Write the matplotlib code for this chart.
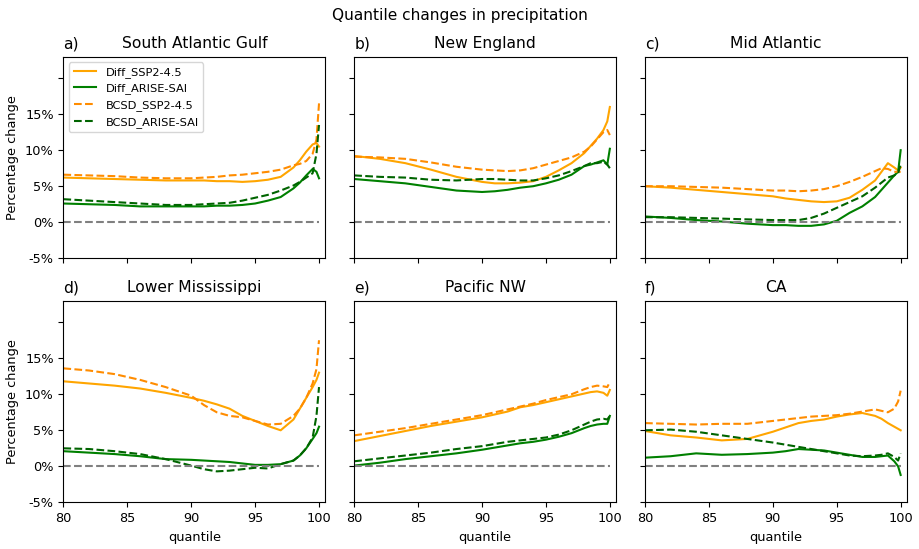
import numpy as np
import matplotlib
matplotlib.use('Agg')
import matplotlib.pyplot as plt

quantiles = [80, 82, 84, 86, 88, 90, 91, 92, 93, 94, 95, 96, 97, 98, 98.5, 99, 99.5, 99.8, 100]

regions = ['South Atlantic Gulf', 'New England', 'Mid Atlantic',
           'Lower Mississippi', 'Pacific NW', 'CA']
letters = ['a)', 'b)', 'c)', 'd)', 'e)', 'f)']

diff_ssp = [
    [6.2, 6.1, 6.0, 5.9, 5.8, 5.8, 5.8, 5.7, 5.7, 5.6, 5.7, 5.9, 6.3, 7.6, 8.6, 9.8, 10.8, 11.0, 10.5],
    [9.2, 8.8, 8.2, 7.3, 6.3, 5.6, 5.4, 5.4, 5.5, 5.7, 6.3, 7.2, 8.2, 9.6, 10.6, 11.6, 12.8, 14.0, 16.0],
    [5.0, 4.8, 4.5, 4.2, 3.9, 3.6, 3.3, 3.1, 2.9, 2.8, 2.9, 3.4, 4.5, 5.8, 7.0, 8.2, 7.6, 7.2, 7.6],
    [11.8, 11.5, 11.2, 10.8, 10.2, 9.5, 9.1, 8.6, 8.0, 7.0, 6.3, 5.6, 5.0, 6.5, 8.0, 9.5, 11.0, 12.0, 13.0],
    [3.5, 4.2, 4.9, 5.6, 6.2, 6.8, 7.2, 7.6, 8.2, 8.5, 8.9, 9.3, 9.7, 10.1, 10.3, 10.4, 10.2, 9.8, 10.6],
    [4.9, 4.3, 4.0, 3.6, 3.8, 4.8, 5.4, 6.0, 6.3, 6.5, 6.9, 7.2, 7.4, 7.0, 6.6, 6.0, 5.5, 5.2, 5.0],
]
diff_arise = [
    [2.6, 2.5, 2.4, 2.2, 2.2, 2.2, 2.2, 2.3, 2.3, 2.4, 2.6, 3.0, 3.5, 4.7, 5.5, 6.5, 7.4, 7.0, 6.1],
    [6.0, 5.7, 5.4, 4.9, 4.4, 4.2, 4.3, 4.5, 4.8, 5.0, 5.4, 5.9, 6.6, 7.8, 8.0, 8.3, 8.6, 8.0, 10.2],
    [0.8, 0.6, 0.3, 0.1, -0.2, -0.4, -0.4, -0.5, -0.5, -0.3, 0.2, 1.3, 2.2, 3.5, 4.5, 5.5, 6.5, 7.0, 10.0],
    [2.1, 1.9, 1.7, 1.4, 1.0, 0.9, 0.8, 0.7, 0.6, 0.4, 0.2, 0.2, 0.3, 0.8, 1.5, 2.5, 3.8, 4.6, 5.5],
    [0.1, 0.5, 1.0, 1.4, 1.8, 2.3, 2.6, 2.9, 3.2, 3.4, 3.7, 4.1, 4.6, 5.3, 5.6, 5.8, 5.9, 5.9, 7.0],
    [1.2, 1.4, 1.8, 1.6, 1.7, 1.9, 2.1, 2.4, 2.3, 2.2, 1.9, 1.6, 1.3, 1.3, 1.4, 1.5, 0.7, 0.0, -1.2],
]
bcsd_ssp = [
    [6.6, 6.5, 6.4, 6.2, 6.1, 6.1, 6.2, 6.3, 6.5, 6.6, 6.8, 7.0, 7.3, 7.9, 8.1, 8.5, 9.5, 11.5, 16.5],
    [9.1, 9.0, 8.8, 8.3, 7.7, 7.3, 7.2, 7.1, 7.2, 7.5, 8.0, 8.5, 9.0, 9.8, 10.5, 11.5, 12.5, 12.8, 12.1],
    [5.0, 5.0, 4.9, 4.8, 4.6, 4.4, 4.4, 4.3, 4.4, 4.6, 5.0, 5.6, 6.3, 7.1, 7.5, 7.4, 7.0, 7.0, 7.0],
    [13.6, 13.3, 12.8, 12.0, 11.0, 9.8, 8.5, 7.5, 7.0, 6.8, 6.3, 5.8, 5.9, 7.0, 8.0, 9.5, 11.5, 13.5, 17.5],
    [4.3, 4.8, 5.3, 5.9, 6.5, 7.1, 7.5, 7.9, 8.3, 8.7, 9.2, 9.6, 10.0, 10.7, 11.0, 11.2, 11.1, 11.0, 11.7],
    [6.0, 5.9, 5.8, 5.9, 5.9, 6.3, 6.5, 6.7, 6.9, 7.0, 7.1, 7.3, 7.6, 7.9, 7.7, 7.5, 8.0, 9.0, 10.5],
]
bcsd_arise = [
    [3.2, 3.0, 2.8, 2.6, 2.4, 2.4, 2.5, 2.6, 2.7, 3.0, 3.4, 3.8, 4.4, 5.1, 5.6, 6.2, 6.8, 9.5, 13.5],
    [6.5, 6.3, 6.2, 5.9, 5.8, 6.0, 6.0, 5.9, 5.8, 5.8, 6.1, 6.5, 7.1, 7.8, 8.2, 8.2, 8.4, 8.0, 7.5],
    [0.7, 0.7, 0.6, 0.5, 0.4, 0.3, 0.3, 0.3, 0.6, 1.2, 2.0, 2.8, 3.6, 4.8, 5.5, 6.2, 6.5, 6.8, 8.0],
    [2.5, 2.4, 2.1, 1.7, 1.0, 0.1, -0.4, -0.7, -0.6, -0.4, -0.2, -0.3, 0.3, 0.8, 1.5, 2.5, 4.0, 7.0, 11.0],
    [0.7, 1.1, 1.5, 1.9, 2.4, 2.8, 3.1, 3.4, 3.6, 3.8, 4.0, 4.4, 5.0, 5.8, 6.2, 6.5, 6.6, 6.5, 7.0],
    [5.0, 5.1, 4.8, 4.3, 3.8, 3.3, 3.0, 2.7, 2.4, 2.1, 1.8, 1.5, 1.4, 1.5, 1.6, 1.8, 1.3, 0.8, 1.8],
]

yticks = [-5, 0, 5, 10, 15, 20]
ytick_labels = ['-5%', '0%', '5%', '10%', '15%', '']

fig, axes = plt.subplots(2, 3, figsize=(9.19, 5.49), dpi=100, sharex=True, sharey=True)
fig.subplots_adjust(left=0.069, right=0.987, top=0.897, bottom=0.085, wspace=0.11, hspace=0.21)

for i, ax in enumerate(axes.flat):
    ax.plot(quantiles, diff_ssp[i], color='orange', linewidth=1.5, label='Diff_SSP2-4.5')
    ax.plot(quantiles, diff_arise[i], color='green', linewidth=1.5, label='Diff_ARISE-SAI')
    ax.plot(quantiles, bcsd_ssp[i], '--', color='darkorange', linewidth=1.5, label='BCSD_SSP2-4.5')
    ax.plot(quantiles, bcsd_arise[i], '--', color='darkgreen', linewidth=1.5, label='BCSD_ARISE-SAI')
    ax.plot([quantiles[0], quantiles[-1]], [0, 0], '--', color='grey', linewidth=1.5)
    ax.set_title(letters[i], loc='left', fontsize=11.2)
    ax.set_title(regions[i], fontsize=11.2)
    ax.set_xlim(80, 100.5)
    ax.set_ylim(-5, 23)
    ax.set_yticks(yticks)
    ax.set_yticklabels(ytick_labels)
    ax.set_xticks([80, 85, 90, 95, 100])
    ax.tick_params(labelsize=9.3)
    if i % 3 == 0:
        ax.set_ylabel('Percentage change', fontsize=9.3)
    if i >= 3:
        ax.set_xlabel('quantile', fontsize=9.3)

axes[0, 0].legend(loc='upper left', fontsize=8.2)
fig.suptitle('Quantile changes in precipitation', fontsize=11.1, y=0.985)

fig.savefig('out.png', dpi=100)
